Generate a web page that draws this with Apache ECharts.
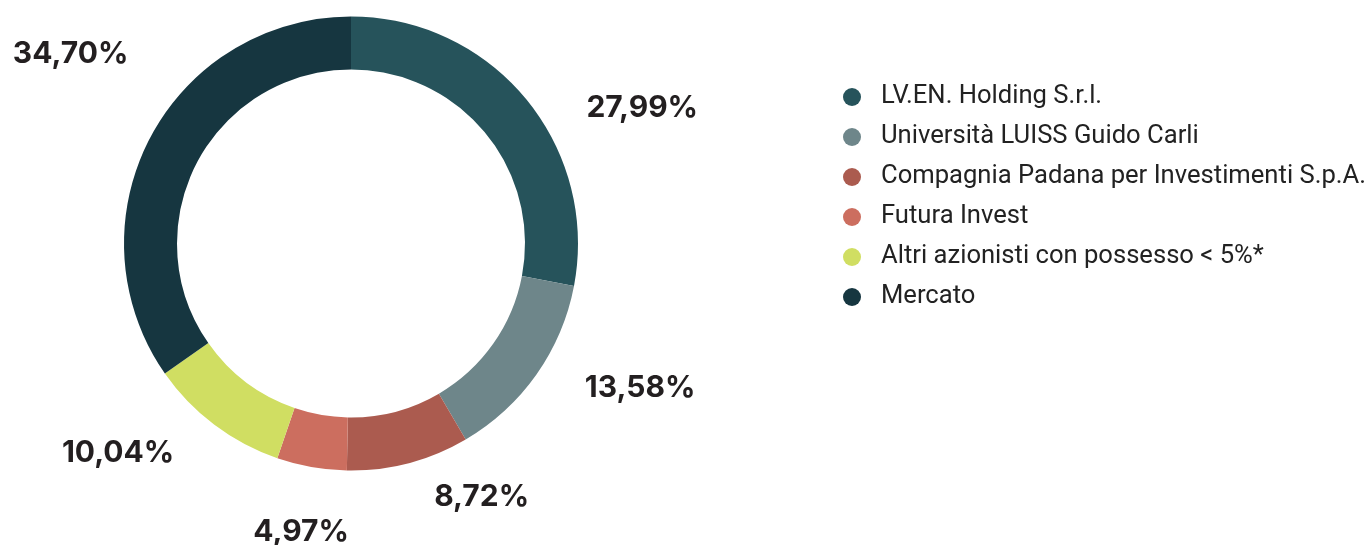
<!DOCTYPE html>
<html>
<head>
<meta charset="utf-8">
<script src="https://cdn.jsdelivr.net/npm/echarts@6/dist/echarts.min.js"></script>
<style>
html,body{margin:0;padding:0;background:#fff;}
#chart{width:1370px;height:545px;}
</style>
</head>
<body>
<div id="chart"></div>
<script>
const categories = [
  'LV.EN. Holding S.r.l.',
  'Università LUISS Guido Carli',
  'Compagnia Padana per Investimenti S.p.A.',
  'Futura Invest',
  'Altri azionisti con possesso < 5%*',
  'Mercato'
];
const shares = [27.99, 13.58, 8.72, 4.97, 10.04, 34.70];
const colors = ['#26535b', '#6e868a', '#ab5b4f', '#cc6e5f', '#d0de62', '#163640'];
// label nudges (styling only), in px
const labelNudge = [[4, 19], [-9, 5], [-23, 19], [85, 50], [14, 16], [37, -78]];

const chart = echarts.init(document.getElementById('chart'), null, {renderer: 'canvas'});
chart.setOption({
  animation: false,
  color: colors,
  legend: {
    orient: 'vertical',
    left: 838,
    top: 79,
    itemWidth: 18,
    itemHeight: 18,
    itemGap: 14,
    icon: 'circle',
    textStyle: {
      fontFamily: 'Roboto',
      fontSize: 25.6,
      lineHeight: 26,
      color: '#222222',
      padding: [0, 0, 0, 15]
    },
    data: categories
  },
  series: [{
    type: 'pie',
    center: [351, 243.5],
    radius: [174, 227],
    startAngle: 90,
    clockwise: true,
    avoidLabelOverlap: false,
    itemStyle: {borderWidth: 0},
    label: {
      show: true,
      position: 'outside',
      fontFamily: 'Inter',
      fontWeight: 'bold',
      fontSize: 30,
      color: '#231f20',
      formatter: p => p.value.toFixed(2).replace('.', ',') + '%'
    },
    labelLine: {show: false, length: 15, length2: 40},
    labelLayout: p => ({dx: labelNudge[p.dataIndex][0], dy: labelNudge[p.dataIndex][1]}),
    emphasis: {disabled: true},
    data: categories.map((c, i) => ({name: c, value: shares[i]}))
  }]
});
</script>
</body>
</html>
